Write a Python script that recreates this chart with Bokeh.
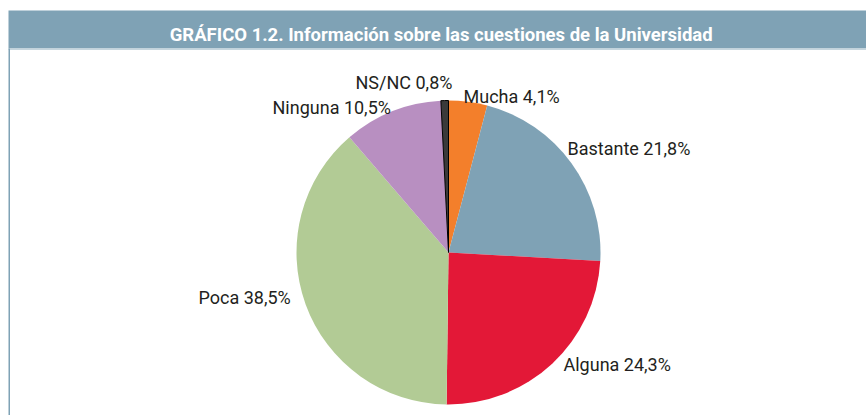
import math
from bokeh.plotting import figure
from bokeh.models import Range1d, ColumnDataSource
from bokeh.core.properties import value
from bokeh.embed import file_html
from bokeh.resources import INLINE

# ---- data ----
title_text = "GRÁFICO 1.2.  Información sobre las cuestiones de la Universidad"
categories = ["Mucha", "Bastante", "Alguna", "Poca", "Ninguna", "NS/NC"]
percent = [4.1, 21.8, 24.3, 38.5, 10.5, 0.8]
percent_labels = ["4,1%", "21,8%", "24,3%", "38,5%", "10,5%", "0,8%"]
colors = ["#f37f2b", "#7fa2b5", "#e31837", "#b2cb95", "#b88fc1", "#3a3a3a"]

# ---- layout (pixel coords of the picture) ----
W, H = 866, 415
def sy(y):  # picture y -> data y
    return H - y

cx, cy, R = 448, sy(252), 152
label_left = [463, 567, 563, 198, 272, 355]
label_base = [96, 148, 364, 297, 107, 82]

p = figure(width=W, height=H, output_backend="svg", toolbar_location=None,
           x_range=Range1d(0, W), y_range=Range1d(0, H),
           min_border=0, outline_line_color=None)
p.axis.visible = False
p.grid.visible = False
p.background_fill_color = "white"
p.border_fill_color = "white"

# title bar
p.quad(left=8, right=W, top=sy(10), bottom=sy(48), fill_color="#7fa2b5", line_color=None)
p.quad(left=8, right=W, top=sy(48), bottom=sy(49.5), fill_color="#c6d6de", line_color=None)
p.quad(left=8, right=9.5, top=sy(48), bottom=0, fill_color="#7fa2b5", line_color=None)
p.text(x=[443], y=[sy(34)], text=[title_text], text_color="white",
       text_font=value("Roboto"), text_font_style="bold", text_font_size="18.5px",
       text_align="center", text_baseline="alphabetic")

# pie
starts, ends = [], []
cum = 0.0
for v in percent:
    starts.append(math.pi / 2 - 2 * math.pi * cum / 100.0)
    cum += v
    ends.append(math.pi / 2 - 2 * math.pi * cum / 100.0)

src = ColumnDataSource(dict(cat=categories, start=starts, end=ends, color=colors,
                            lc=[None] * 5 + ["#000000"]))
p.wedge(x=cx, y=cy, radius=R, start_angle="start", end_angle="end", direction="clock",
        fill_color="color", line_color="lc", line_width=1, source=src)

# labels
texts = [f"{c} {l}" for c, l in zip(categories, percent_labels)]
p.text(x=label_left, y=[sy(b) for b in label_base], text=texts, text_color="#231f20",
       text_font=value("Roboto"), text_font_size="18px",
       text_align="left", text_baseline="alphabetic")

open("out.html", "w").write(file_html(p, INLINE))
